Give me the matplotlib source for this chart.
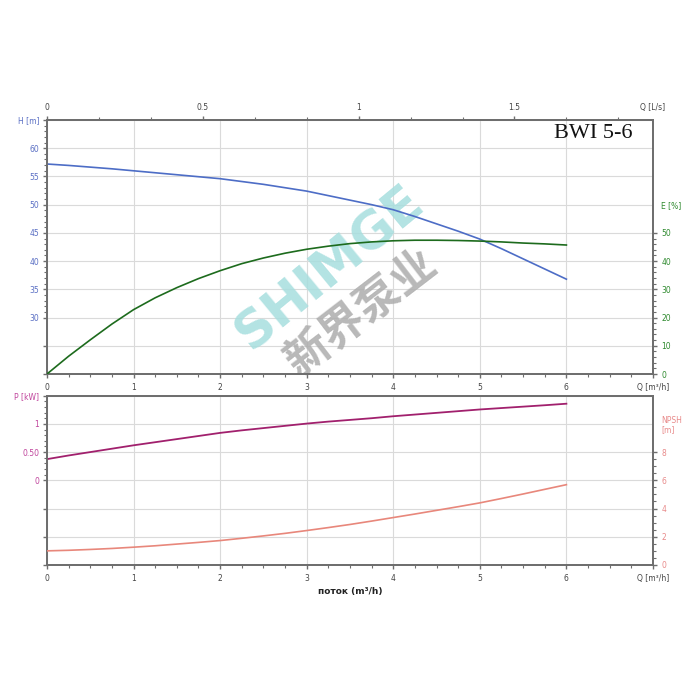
import matplotlib
matplotlib.use("Agg")
import matplotlib.pyplot as plt
from matplotlib.ticker import FixedLocator, MultipleLocator

# flow points (m3/h)
q = [0, 0.25, 0.5, 0.75, 1, 1.25, 1.5, 1.75, 2, 2.25, 2.5, 2.75, 3,
     3.25, 3.5, 3.75, 4, 4.25, 4.5, 4.75, 5, 5.25, 5.5, 5.75, 6]
# head H [m]
head = [57.2, 56.95, 56.65, 56.35, 56.0, 55.65, 55.3, 54.95, 54.6, 54.1, 53.6, 53.0, 52.4,
        51.6, 50.8, 50.0, 49.1, 47.9, 46.6, 45.3, 43.9, 42.2, 40.4, 38.6, 36.8]
# efficiency E [%]
eff = [0, 6.3, 12.1, 17.7, 22.8, 27.0, 30.6, 33.8, 36.6, 39.1, 41.1, 42.8, 44.2,
       45.3, 46.2, 46.8, 47.2, 47.4, 47.4, 47.3, 47.1, 46.8, 46.4, 46.1, 45.7]
# power P [kW]
power = [0.375, 0.44, 0.50, 0.56, 0.62, 0.675, 0.73, 0.785, 0.84, 0.885, 0.925, 0.965, 1.005,
         1.04, 1.07, 1.10, 1.135, 1.165, 1.195, 1.225, 1.255, 1.28, 1.305, 1.33, 1.357]
# NPSH [m]
npsh = [1.0, 1.04, 1.1, 1.17, 1.26, 1.36, 1.48, 1.60, 1.73, 1.89, 2.06, 2.24, 2.44,
        2.65, 2.87, 3.11, 3.36, 3.61, 3.87, 4.13, 4.4, 4.71, 5.03, 5.36, 5.69]

x_ticks = [0, 1, 2, 3, 4, 5, 6, 7]
x_labels = ['0', '1', '2', '3', '4', '5', '6', 'Q [m³/h]']
ls_ticks = [0, 0.5, 1, 1.5, 7 / 3.6]
ls_labels = ['0', '0.5', '1', '1.5', 'Q [L/s]']
h_ticks = [20, 25, 30, 35, 40, 45, 50, 55, 60, 65]
h_labels = ['', '', '30', '35', '40', '45', '50', '55', '60', 'H [m]']
e_ticks = [0, 10, 20, 30, 40, 50, 60]
e_labels = ['0', '10', '20', '30', '40', '50', 'E [%]']
p_ticks = [-1.5, -1.0, -0.5, 0, 0.5, 1.0, 1.5]
p_labels = ['', '', '', '0', '0.50', '1', 'P [kW]']
n_ticks = [0, 2, 4, 6, 8, 10]
n_labels = ['0', '2', '4', '6', '8', 'NPSH\n[m]']

SPINE = '#6e6e6e'
GRID = '#dadada'
TXT = '#444444'
C_H = '#4d6dc6'
C_E = '#1d6b1d'
C_P = '#a1206d'
C_N = '#e8877b'
C_HL = '#5a6fc4'
C_EL = '#2f8a2f'
C_PL = '#c0449c'
C_NL = '#e88a8a'
FS = 5.5

plt.rcParams['font.family'] = ['DejaVu Sans']

fig = plt.figure(figsize=(7, 7), dpi=100)
ax1 = fig.add_axes([0.0671, 0.4657, 0.8657, 0.3629])
ax2 = fig.add_axes([0.0671, 0.1929, 0.8657, 0.2419])


def style_spines(ax):
    for s in ax.spines.values():
        s.set_color(SPINE)
        s.set_linewidth(1.3)


# ---------- top panel: H and E ----------
ax1.set_xlim(0, 7)
ax1.set_ylim(20, 65)
ax1.grid(True, color=GRID, linewidth=0.8, zorder=0)
ax1.set_axisbelow(True)
ax1.xaxis.set_major_locator(FixedLocator(x_ticks))
ax1.set_xticklabels(x_labels)
ax1.xaxis.set_minor_locator(MultipleLocator(0.25))
ax1.yaxis.set_major_locator(FixedLocator(h_ticks))
ax1.set_yticklabels(h_labels)
ax1.yaxis.set_minor_locator(FixedLocator([v for v in range(30, 65) if v % 5 != 0]))
ax1.tick_params(axis='x', which='both', colors=SPINE, labelcolor=TXT, labelsize=FS, direction='out')
ax1.tick_params(axis='x', which='major', length=3, width=1, pad=3.5)
ax1.tick_params(axis='x', which='minor', length=2.5, width=0.8)
ax1.tick_params(axis='y', which='both', colors=SPINE, labelcolor=C_HL, labelsize=FS, direction='out')
ax1.tick_params(axis='y', which='major', length=3, width=1, pad=2.5)
ax1.tick_params(axis='y', which='minor', length=2, width=0.8)
for t in ax1.yaxis.get_major_ticks()[:2]:
    t.tick1line.set_visible(False)
style_spines(ax1)

ax1.plot(q, head, color=C_H, linewidth=1.2, zorder=3)

ax1e = ax1.twinx()
ax1e.set_ylim(0, 90)
ax1e.yaxis.set_major_locator(FixedLocator(e_ticks))
ax1e.set_yticklabels(e_labels)
ax1e.yaxis.set_minor_locator(FixedLocator([v for v in range(0, 51, 2) if v % 10 != 0]))
ax1e.tick_params(axis='y', which='both', colors=SPINE, labelcolor=C_EL, labelsize=FS, direction='out')
ax1e.tick_params(axis='y', which='major', length=3, width=1, pad=3)
ax1e.tick_params(axis='y', which='minor', length=2, width=0.8)
ax1e.yaxis.get_major_ticks()[-1].tick2line.set_visible(False)
style_spines(ax1e)
ax1e.plot(q, eff, color=C_E, linewidth=1.2, zorder=3)

top = ax1.secondary_xaxis('top', functions=(lambda x: x / 3.6, lambda x: x * 3.6))
top.xaxis.set_major_locator(FixedLocator(ls_ticks))
top.set_xticklabels(ls_labels)
top.xaxis.set_minor_locator(MultipleLocator(1 / 6))
top.tick_params(axis='x', which='both', colors=SPINE, labelcolor=TXT, labelsize=FS, direction='out')
top.tick_params(axis='x', which='major', length=3, width=1, pad=3)
top.tick_params(axis='x', which='minor', length=2.5, width=0.8)
top.xaxis.get_major_ticks()[-1].tick2line.set_visible(False)
top.spines['top'].set_color(SPINE)
top.spines['top'].set_linewidth(1.3)

# title
fig.text(0.904, 0.8086, 'BWI 5-6', family='Liberation Serif', fontsize=16,
         ha='right', va='center', color='#111111')

# watermark
ax1.text(0.4715, 0.617, 'SHIMGE', transform=fig.transFigure, fontsize=37, fontweight='bold',
         color='#a6dede', alpha=0.85, rotation=39.5, ha='center', va='center', zorder=1)
ax1.text(0.517, 0.553, '新界泵业', transform=fig.transFigure, fontsize=32, fontweight='bold',
         family=['Noto Sans CJK SC', 'DejaVu Sans'],
         color='#acacac', alpha=0.85, rotation=37.5, ha='center', va='center', zorder=1)

# ---------- bottom panel: P and NPSH ----------
ax2.set_xlim(0, 7)
ax2.set_ylim(-1.5, 1.5)
ax2.grid(True, color=GRID, linewidth=0.8, zorder=0)
ax2.set_axisbelow(True)
ax2.xaxis.set_major_locator(FixedLocator(x_ticks))
ax2.set_xticklabels(x_labels)
ax2.xaxis.set_minor_locator(MultipleLocator(0.25))
ax2.yaxis.set_major_locator(FixedLocator(p_ticks))
ax2.set_yticklabels(p_labels)
ax2.yaxis.set_minor_locator(FixedLocator([0.1, 0.2, 0.3, 0.4, 0.6, 0.7, 0.8, 0.9, 1.1, 1.2, 1.3, 1.4]))
ax2.tick_params(axis='x', which='both', colors=SPINE, labelcolor=TXT, labelsize=FS, direction='out')
ax2.tick_params(axis='x', which='major', length=3, width=1, pad=3.5)
ax2.tick_params(axis='x', which='minor', length=2.5, width=0.8)
ax2.tick_params(axis='y', which='both', colors=SPINE, labelcolor=C_PL, labelsize=FS, direction='out')
ax2.tick_params(axis='y', which='major', length=3, width=1, pad=2.5)
ax2.tick_params(axis='y', which='minor', length=2, width=0.8)
for t in ax2.yaxis.get_major_ticks()[:3]:
    t.tick1line.set_visible(False)
style_spines(ax2)
ax2.set_xlabel('поток (m³/h)', fontsize=6.5, fontweight='bold', color='#222222', labelpad=3)
ax2.plot(q, power, color=C_P, linewidth=1.3, zorder=3)

ax2n = ax2.twinx()
ax2n.set_ylim(0, 12)
ax2n.yaxis.set_major_locator(FixedLocator(n_ticks))
ax2n.set_yticklabels(n_labels, linespacing=1.0)
ax2n.yaxis.set_minor_locator(FixedLocator([v / 2 for v in range(0, 17) if v % 4 != 0]))
ax2n.tick_params(axis='y', which='both', colors=SPINE, labelcolor=C_NL, labelsize=FS, direction='out')
ax2n.tick_params(axis='y', which='major', length=3, width=1, pad=3)
ax2n.tick_params(axis='y', which='minor', length=2, width=0.8)
ax2n.yaxis.get_major_ticks()[-1].tick2line.set_visible(False)
style_spines(ax2n)
ax2n.plot(q, npsh, color=C_N, linewidth=1.2, zorder=3)

fig.savefig('out.png', dpi=100, facecolor='white')
